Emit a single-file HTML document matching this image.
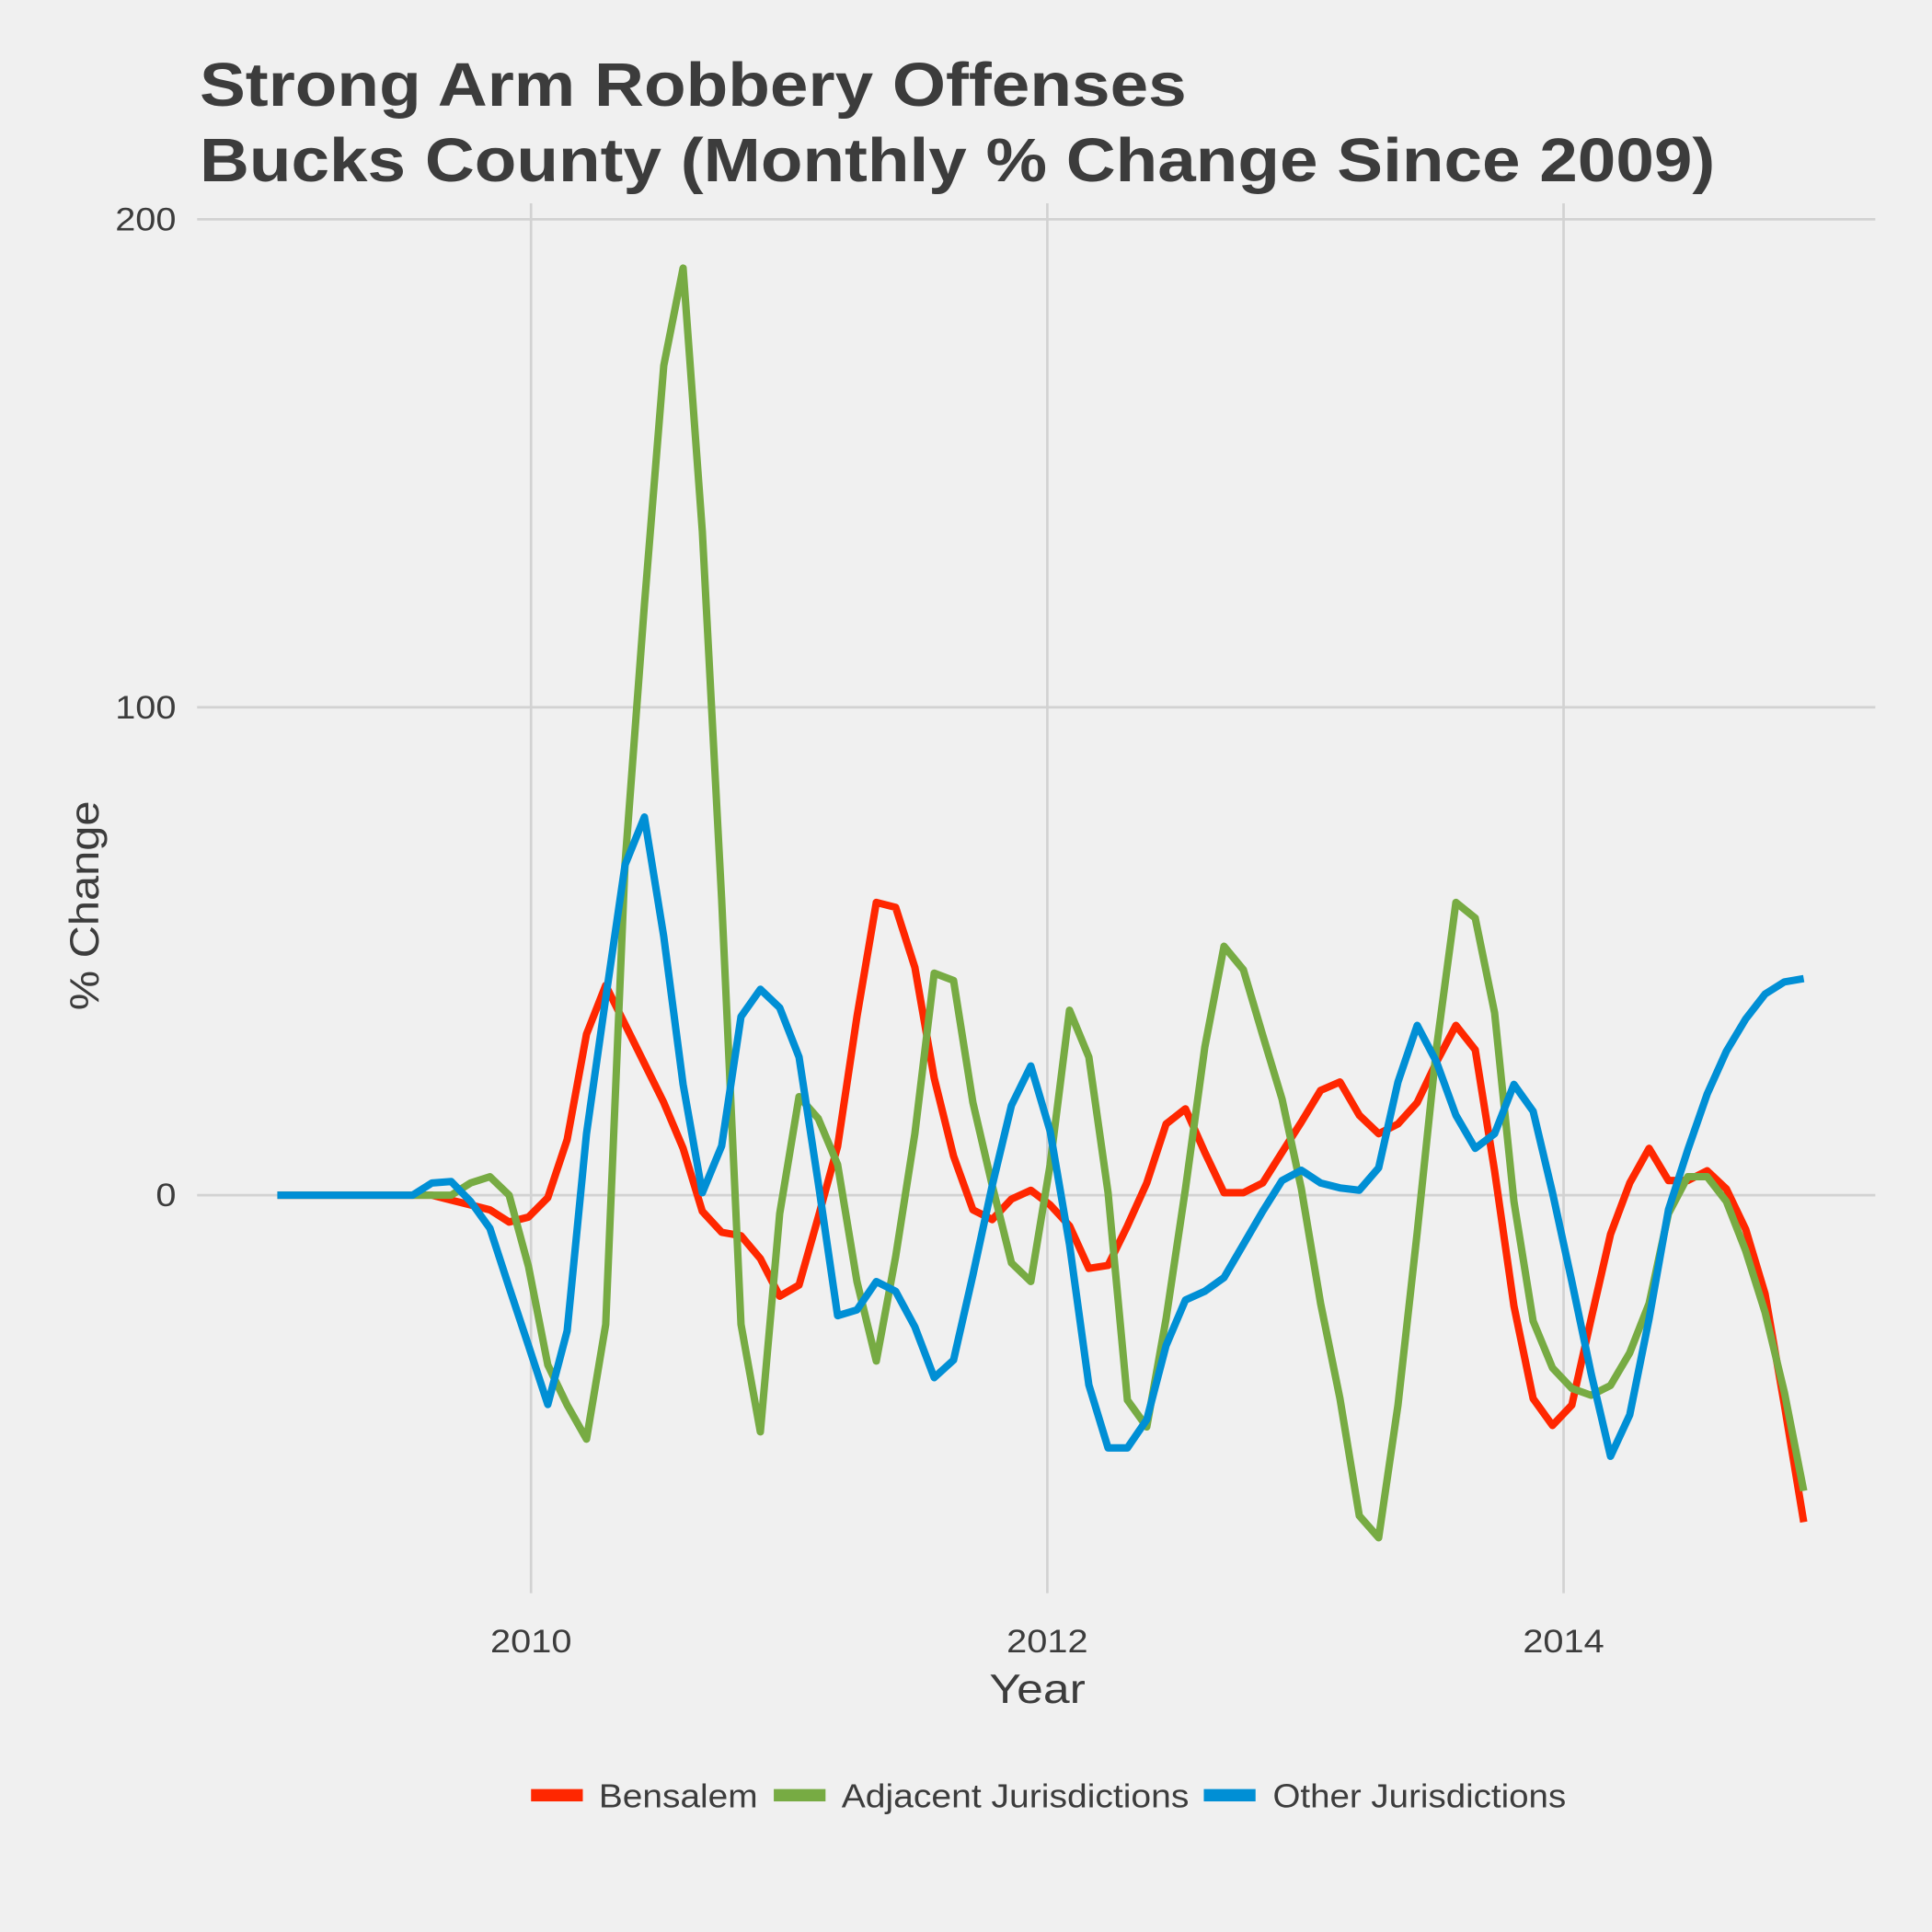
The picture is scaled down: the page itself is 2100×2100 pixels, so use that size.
<!DOCTYPE html>
<html><head><meta charset="utf-8"><style>
html,body{margin:0;padding:0;background:#f0f0f0;}
svg{display:block;font-family:"Liberation Sans",sans-serif;}
</style></head><body>
<svg id="chart" width="2100" height="2100" viewBox="0 0 1568 1568" xmlns="http://www.w3.org/2000/svg">
<rect width="1568" height="1568" fill="#f0f0f0"/>
<text x="162" y="86" font-size="50" font-weight="bold" fill="#3c3c3c" textLength="801" lengthAdjust="spacingAndGlyphs">Strong Arm Robbery Offenses</text>
<text x="162" y="147" font-size="50" font-weight="bold" fill="#3c3c3c" textLength="1230" lengthAdjust="spacingAndGlyphs">Bucks County (Monthly % Change Since 2009)</text>
<g id="grid"></g>
<g id="series"></g>
<text x="803" y="1382" font-size="33" fill="#3c3c3c" textLength="78" lengthAdjust="spacingAndGlyphs">Year</text>
<text transform="translate(80,820) rotate(-90)" font-size="33" fill="#3c3c3c" textLength="170" lengthAdjust="spacingAndGlyphs">% Change</text>
<g>
<g><rect x="431" y="1452" width="42" height="10" fill="#ff2700"/><text x="486" y="1467" font-size="27" fill="#3c3c3c" textLength="129" lengthAdjust="spacingAndGlyphs">Bensalem</text></g>
<g><rect x="628" y="1452" width="42" height="10" fill="#77ab43"/><text x="683" y="1467" font-size="27" fill="#3c3c3c" textLength="282" lengthAdjust="spacingAndGlyphs">Adjacent Jurisdictions</text></g>
<g><rect x="977" y="1452" width="42" height="10" fill="#008fd5"/><text x="1033" y="1467" font-size="27" fill="#3c3c3c" textLength="238" lengthAdjust="spacingAndGlyphs">Other Jurisdictions</text></g>
</g>
</svg>
<script>
const yTicks = [0, 100, 200];
const xTicks = [2010, 2012, 2014];
const startYear = 2009.017;
const periodYears = 0.07485;
const bensalem = [0,0,0,0,0,0,0,0,0,
-1,-2,-3,-5.5,-4.5,-0.5,11.4,33,43,35,27,19,9.6,-3.3,-7.6,-8.3,-13,-20.7,-18.4,-4.5,10,36.6,60,59,46.7,24,8,-3,-5,-0.8,1,-2,-6.3,-15,-14.4,-6.3,2.5,14.6,17.7,8.8,0.5,0.5,2.5,8.8,15,21.5,23.2,16.4,12.6,14.6,19,27.3,34.8,29.8,5,-22.7,-41.7,-47.2,-43,-25.3,-8,2.5,9.6,3,3,5,1.3,-7,-20.2,-43,-67];
const adjacent = [0,0,0,0,0,0,0,0,
0,0,2.5,3.8,0,-14.6,-34.8,-43,-50,-26.5,68,121,170,190,136,60.6,-26.5,-48.5,-3.8,20.2,15.7,6.3,-17.7,-34,-12.6,12.6,45.5,44,19,2,-13.9,-17.7,6.3,37.9,28.3,0.5,-42,-47.5,-25.3,1.3,30.3,51,46.2,32.8,19.7,1.3,-22.2,-41.7,-65.7,-70.2,-43,-7.6,30.3,60,56.8,37.4,-1.3,-25.8,-35.4,-39.6,-41,-39,-32.3,-22.2,-3.8,3.8,3.8,-1.3,-11.4,-24,-40.4,-60.6];
const other = [0,0,0,0,0,0,0,0,
2.5,2.8,-1.3,-6.8,-18.9,-30.8,-42.9,-27.8,12.6,40.4,67.7,77.5,53,22.7,0.5,10.1,36.6,42.2,38.4,28.3,2.5,-24.7,-23.5,-17.7,-19.7,-27,-37.4,-33.8,-16.4,2,18.4,26.5,13.1,-10.1,-38.9,-51.8,-51.8,-46,-30.8,-21.5,-19.7,-16.9,-10.1,-3.3,3,5.1,2.5,1.5,1,5.6,23.2,34.8,27.3,16.4,9.6,12.6,22.7,17.2,0.5,-17.7,-36.6,-53.5,-45,-25.3,-3,9.3,20.7,29.5,36.1,41.2,43.7,44.4];

const NS = "http://www.w3.org/2000/svg";
function xScale(year){ return 431 + (year - 2010) * 209.5; }
function yScale(v){ return 970 - v * 3.96; }
const grid = document.getElementById('grid');
const series = document.getElementById('series');

yTicks.forEach(t => {
  const l = document.createElementNS(NS,'line');
  l.setAttribute('x1',160); l.setAttribute('x2',1522);
  l.setAttribute('y1',yScale(t)); l.setAttribute('y2',yScale(t));
  l.setAttribute('stroke','#d2d2d2'); l.setAttribute('stroke-width','2');
  
  
  grid.appendChild(l);
  const tx = document.createElementNS(NS,'text');
  tx.setAttribute('x',143); tx.setAttribute('y',yScale(t)+9);
  tx.setAttribute('text-anchor','end'); tx.setAttribute('font-size','26'); tx.setAttribute('fill','#3c3c3c');
  tx.setAttribute('textLength', String(t).length * 16.5); tx.setAttribute('lengthAdjust','spacingAndGlyphs');
  tx.textContent = t;
  
  
  grid.appendChild(tx);
});
xTicks.forEach(t => {
  const l = document.createElementNS(NS,'line');
  l.setAttribute('x1',xScale(t)); l.setAttribute('x2',xScale(t));
  l.setAttribute('y1',165); l.setAttribute('y2',1293);
  l.setAttribute('stroke','#d2d2d2'); l.setAttribute('stroke-width','2');
  
  
  grid.appendChild(l);
  const tx = document.createElementNS(NS,'text');
  tx.setAttribute('x',xScale(t) - 33); tx.setAttribute('y',1341);
  tx.setAttribute('font-size','26'); tx.setAttribute('fill','#3c3c3c');
  tx.setAttribute('textLength', 66); tx.setAttribute('lengthAdjust','spacingAndGlyphs');
  tx.textContent = t;
  
  
  grid.appendChild(tx);
});
function drawLine(vals, color, name){
  const pts = vals.map((v,i) => xScale(startYear + i*periodYears).toFixed(1) + ',' + yScale(v).toFixed(1)).join(' ');
  const p = document.createElementNS(NS,'polyline');
  p.setAttribute('points', pts);
  p.setAttribute('fill','none'); p.setAttribute('stroke',color);
  p.setAttribute('stroke-width','6'); p.setAttribute('stroke-linejoin','round');
  
  
  series.appendChild(p);
}
drawLine(bensalem, '#ff2700', 'bensalem-line');
drawLine(adjacent, '#77ab43', 'adjacent-line');
drawLine(other, '#008fd5', 'other-line');
</script>
</body></html>
